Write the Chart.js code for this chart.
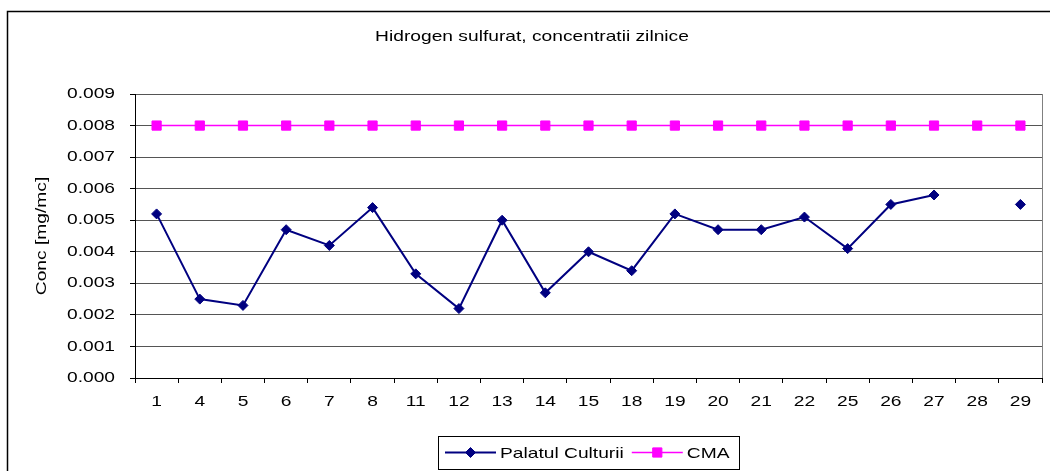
<!DOCTYPE html>
<html><head><meta charset="utf-8">
<script src="https://cdn.jsdelivr.net/npm/chart.js@4.4.1/dist/chart.umd.min.js"></script>
<style>html,body{margin:0;padding:0;background:#fff;overflow:hidden}canvas{display:block}</style>
</head><body>
<canvas id="c" width="1050" height="471" style="width:1050px;height:471px"></canvas>
<script>
// ---- data ----
const days = ['1','4','5','6','7','8','11','12','13','14','15','18','19','20','21','22','25','26','27','28','29'];
const palatulCulturii = [0.0052,0.0025,0.0023,0.0047,0.0042,0.0054,0.0033,0.0022,0.0050,0.0027,0.0040,0.0034,0.0052,0.0047,0.0047,0.0051,0.0041,0.0055,0.0058,null,0.0055];
const cma = [0.008,0.008,0.008,0.008,0.008,0.008,0.008,0.008,0.008,0.008,0.008,0.008,0.008,0.008,0.008,0.008,0.008,0.008,0.008,0.008,0.008];
const seriesNames = ['Palatul Culturii','CMA'];
const chartTitle = 'Hidrogen sulfurat, concentratii zilnice';
const yAxisTitle = 'Conc [mg/mc]';
const yMin = 0, yMax = 0.009, yStep = 0.001;

// ---- rendering ----
const FONT = '"Liberation Sans", Arial, sans-serif';
const SX = 1.28; // horizontal text stretch seen in the reference
const canvas = document.getElementById('c');
const ctx = canvas.getContext('2d');
const nativeFill = CanvasRenderingContext2D.prototype.fillText;
ctx.fillText = function(t, x, y, mw) {
  this.save();
  this.translate(x, y);
  this.scale(SX, 1);
  if (typeof mw === 'number') nativeFill.call(this, t, 0, 0, mw / SX);
  else nativeFill.call(this, t, 0, 0);
  this.restore();
};

Chart.defaults.font.family = FONT;
Chart.defaults.color = '#000';

const framePlugin = {
  id: 'frame',
  afterDraw(chart) {
    const c = chart.ctx, a = chart.chartArea;
    c.save();
    // right border of plot area
    c.strokeStyle = '#808080'; c.lineWidth = 1;
    const xr = Math.round(a.right) + 0.5;
    c.beginPath(); c.moveTo(xr, a.top); c.lineTo(xr, a.bottom); c.stroke();
    // outer chart object border
    c.strokeStyle = '#000'; c.lineWidth = 1.5;
    c.beginPath(); c.moveTo(7.5, chart.height); c.lineTo(7.5, 11.5); c.lineTo(chart.width, 11.5); c.stroke();
    // legend
    c.font = '15px ' + FONT;
    c.textBaseline = 'middle'; c.textAlign = 'left';
    const lineLen = 51, gapTxt = 4, gapItem = 8, padL = 7, padR = 10;
    const items = chart.data.datasets.map(ds => ({ds, w: c.measureText(ds.label).width * SX}));
    let total = padL + padR + gapItem * (items.length - 1);
    items.forEach(it => total += lineLen + gapTxt + it.w);
    const cx = (a.left + a.right) / 2;
    const left = Math.round(cx - total / 2);
    const top = 436, h = 33, cy = top + h / 2;
    c.strokeStyle = '#000'; c.lineWidth = 1;
    c.strokeRect(left + 0.5, top + 0.5, Math.round(total), h);
    let x = left + padL;
    items.forEach(it => {
      const ds = it.ds;
      c.strokeStyle = ds.borderColor; c.fillStyle = ds.pointBackgroundColor; c.lineWidth = ds.borderWidth;
      c.beginPath(); c.moveTo(x, cy); c.lineTo(x + lineLen, cy); c.stroke();
      c.strokeStyle = ds.pointBorderColor; c.lineWidth = ds.pointBorderWidth;
      Chart.helpers.drawPoint(c, {pointStyle: ds.pointStyle, radius: ds.pointRadius, borderWidth: ds.pointBorderWidth, rotation: 0}, x + lineLen / 2, cy);
      x += lineLen + gapTxt;
      c.fillStyle = '#000';
      c.fillText(ds.label, x, cy + 1);
      x += it.w + gapItem;
    });
    c.restore();
  }
};

new Chart(canvas, {
  type: 'line',
  data: {
    labels: days,
    datasets: [
      {label: seriesNames[0], data: palatulCulturii, borderColor: '#000080', backgroundColor: '#000080',
       borderWidth: 2, pointStyle: 'rectRot', pointRadius: 5, pointBorderWidth: 1,
       pointBackgroundColor: '#000080', pointBorderColor: '#000080', spanGaps: false, tension: 0},
      {label: seriesNames[1], data: cma, borderColor: '#FF00FF', backgroundColor: '#FF00FF',
       borderWidth: 1.5, pointStyle: 'rect', pointRadius: 6.5, pointBorderWidth: 1,
       pointBackgroundColor: '#FF00FF', pointBorderColor: '#FF00FF', tension: 0}
    ]
  },
  options: {
    responsive: false,
    animation: false,
    devicePixelRatio: 1,
    layout: {padding: {left: 22, right: 8, top: 0, bottom: 0}},
    plugins: {
      legend: {display: false},
      tooltip: {enabled: false},
      title: {display: true, text: chartTitle, color: '#000',
              font: {size: 15, weight: 'normal', family: FONT, lineHeight: 1.2},
              padding: {top: 28, bottom: 48}}
    },
    scales: {
      x: {
        offset: true,
        afterFit: s => { s.height = 93; },
        grid: {offset: true, drawOnChartArea: false, drawTicks: true, tickLength: 5, tickColor: '#000'},
        border: {display: true, color: '#000', width: 1},
        ticks: {autoSkip: false, maxRotation: 0, minRotation: 0, padding: 10, color: '#000',
                font: {size: 15, family: FONT}}
      },
      y: {
        min: yMin, max: yMax,
        afterFit: s => { s.width = 113; },
        afterBuildTicks: s => { s.ticks = []; for (let v = yMin; v <= yMax + 1e-9; v += yStep) s.ticks.push({value: +v.toFixed(3)}); },
        grid: {color: '#555', lineWidth: 1, drawTicks: true, tickLength: 5, tickColor: '#000'},
        border: {display: true, color: '#000', width: 1},
        ticks: {padding: 15, color: '#000', font: {size: 15, family: FONT},
                callback: v => Number(v).toFixed(3)},
        title: {display: true, text: yAxisTitle, color: '#000', font: {size: 15, family: FONT},
                padding: {top: 11, bottom: 0}}
      }
    }
  },
  plugins: [framePlugin]
});
</script>
</body></html>
